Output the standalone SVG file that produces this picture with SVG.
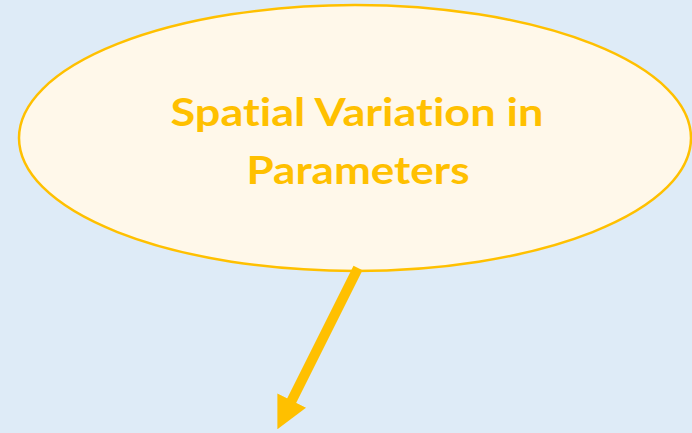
<svg xmlns="http://www.w3.org/2000/svg" width="692" height="433" viewBox="0 0 692 433">
<style>
.lbl{font-family:Lato,"Open Sans","Liberation Sans",sans-serif;font-weight:bold;font-size:39px;fill:#FFC000;text-anchor:middle;font-variant-ligatures:none;font-feature-settings:"liga" 0}
.conn{stroke:#FFC000;stroke-width:10;fill:none}
</style>
<defs>
<marker id="ah" viewBox="0 0 10 10" refX="0.5" refY="5" markerWidth="3.2" markerHeight="3.2" orient="auto" markerUnits="strokeWidth">
<path d="M0,0 L10,5 L0,10 z" fill="#FFC000"/>
</marker>
</defs>
<rect width="692" height="433" fill="#DEEBF7"/>
<g id="node-spatial">
<ellipse cx="355" cy="138" rx="336" ry="133" fill="#FFF8EA" stroke="#FFC000" stroke-width="2.5"/>
<text class="lbl" x="357" y="126" textLength="373" lengthAdjust="spacingAndGlyphs">Spatial Variation in</text>
<text class="lbl" x="358" y="184" textLength="223" lengthAdjust="spacingAndGlyphs">Parameters</text>
</g>
<g id="connectors">
<line class="conn" x1="358" y1="268" x2="291" y2="402" marker-end="url(#ah)"/>
</g>
</svg>
